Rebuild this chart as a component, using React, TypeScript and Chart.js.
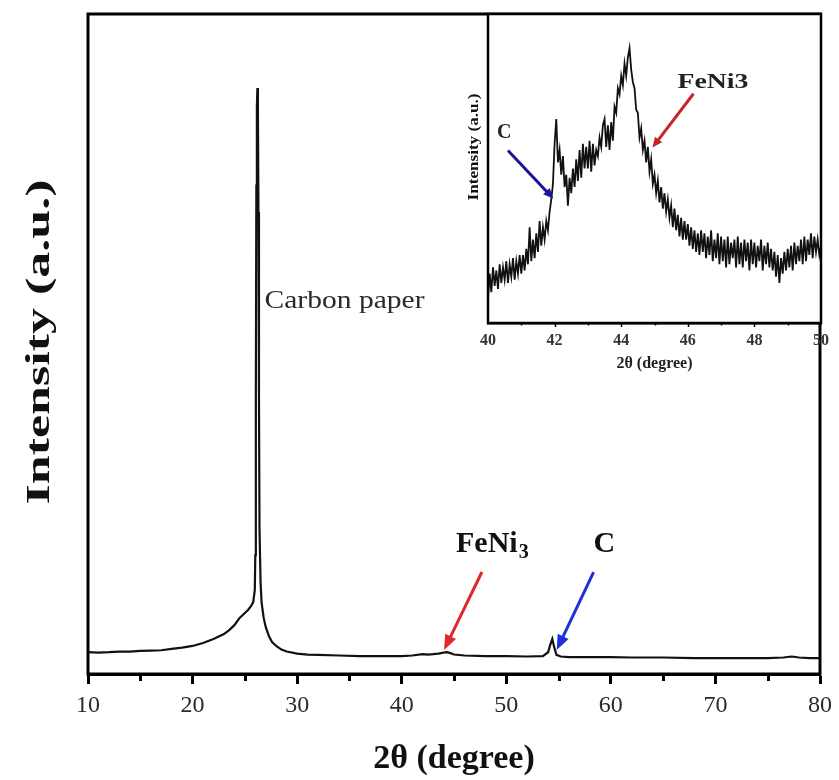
import React, { useEffect, useRef } from "react";
import { Chart, registerables } from "chart.js";

Chart.register(...registerables);

// ---------- DATA ----------
// Main XRD pattern (2θ in degrees, intensity in arbitrary units 0–100)
const mainTwoTheta = [
  10, 11, 12, 13, 14, 15, 16, 17, 18, 19, 20, 21, 22, 23, 23.5, 24, 24.5, 25, 25.3, 25.6,
  25.8, 25.95, 26.0, 26.05, 26.1, 26.15, 26.2, 26.25, 26.3, 26.35, 26.4, 26.5, 26.6, 26.8, 27.0,
  27.3, 27.6, 28, 28.5, 29, 30, 31, 32, 34, 36, 38, 40, 41, 42, 42.5, 43, 43.5, 44, 44.3,
  44.6, 45, 46, 48, 50, 52, 53.5, 54, 54.2, 54.4, 54.6, 54.8, 55.2, 56, 58, 60, 62, 65, 68,
  70, 72, 75, 76.5, 77.3, 78, 79, 80,
];
const mainIntensity = [
  3.3, 3.25, 3.3, 3.4, 3.4, 3.5, 3.55, 3.6, 3.8, 4.0, 4.25, 4.7, 5.3, 6.05, 6.65, 7.4, 8.5,
  9.25, 9.7, 10.3, 10.9, 12.7, 18, 42, 74, 86, 88.8, 85, 70, 42, 22, 14, 10.8, 8.5, 7.1,
  5.75, 4.85, 4.25, 3.7, 3.4, 3.1, 2.95, 2.9, 2.8, 2.7, 2.7, 2.7, 2.8, 3.0, 2.95, 3.0, 3.1, 3.25,
  3.3, 3.2, 2.95, 2.8, 2.7, 2.7, 2.65, 2.7, 3.3, 4.4, 5.3, 3.95, 2.9, 2.65, 2.55, 2.55, 2.55,
  2.5, 2.5, 2.4, 2.4, 2.4, 2.4, 2.5, 2.65, 2.5, 2.4, 2.4,
];
const mainTickLabels = [10, 20, 30, 40, 50, 60, 70, 80];
const mainMinorTicks = [15, 25, 35, 45, 55, 65, 75];

// Inset (zoom 40–50°), sampled every 0.05°
const insetStart = 40;
const insetStep = 0.05;
const insetIntensity = [
  8, 16, 10, 18, 12, 17, 11, 19, 13, 18,
  14, 20, 13, 19, 15, 21, 14, 20, 16, 22,
  16, 22, 17, 24, 19, 31, 20, 27, 21, 29,
  23, 33, 25, 31, 27, 33, 30, 36, 40, 45,
  58, 66, 52, 56, 48, 54, 44, 48, 38, 47,
  42, 50, 44, 53, 46, 56, 47, 58, 50, 57,
  50, 59, 49, 58, 51, 56, 54, 60, 57, 64,
  66, 57, 64, 56, 65, 59, 70, 68, 76, 74,
  80, 77, 84, 80, 86, 89, 82, 78, 76, 69,
  68, 60, 63, 56, 59, 52, 57, 49, 53, 45,
  48, 42, 46, 39, 44, 37, 42, 36, 40, 34,
  38, 31, 37, 30, 35, 28, 34, 27, 33, 27,
  32, 25, 31, 24, 30, 23, 29, 22, 30, 23,
  29, 21, 28, 22, 30, 20, 27, 21, 29, 19,
  28, 20, 27, 18, 28, 19, 26, 21, 27, 18,
  28, 19, 26, 18, 27, 20, 26, 17, 27, 19,
  26, 18, 25, 20, 27, 17, 25, 19, 26, 18,
  24, 17, 23, 15, 22, 13, 21, 16, 23, 17,
  24, 18, 25, 17, 26, 19, 25, 20, 27, 19,
  28, 20, 27, 22, 29, 21, 28, 23, 27, 22,
  25,
];
const insetTickLabels = [40, 42, 44, 46, 48, 50];
const insetAllTicks = [41, 42, 43, 44, 45, 46, 47, 48, 49];

// ---------- STYLE / ANNOTATION SETTINGS ----------
const SERIF = '"Liberation Serif", "Times New Roman", serif';
const W = 839;
const H = 780;

const mainAnno = {
  carbon: { x: 26.88, y: 55.45, text: "Carbon paper" },
  feni: { x: 45.19, y: 18.48 },
  c: { x: 58.35, y: 18.48 },
  redArrow: { x1: 47.67, y1: 15.45, x2: 44.05, y2: 3.64 },
  blueArrow: { x1: 58.35, y1: 15.45, x2: 54.82, y2: 3.64 },
};
const insetAnno = {
  c: { x: 40.27, y: 60.0 },
  feni: { x: 45.69, y: 76.1 },
  blueArrow: { x1: 40.6, y1: 55.8, x2: 41.96, y2: 40.3 },
  redArrow: { x1: 46.17, y1: 74.2, x2: 44.94, y2: 56.8 },
};

function drawText(
  ctx: CanvasRenderingContext2D,
  text: string,
  x: number,
  y: number,
  font: string,
  color: string,
  opts: { targetW?: number; align?: "left" | "center"; baseline?: CanvasTextBaseline; rot?: number } = {}
) {
  ctx.save();
  ctx.font = font;
  ctx.fillStyle = color;
  ctx.textBaseline = opts.baseline || "alphabetic";
  ctx.textAlign = "left";
  const w = ctx.measureText(text).width;
  const sx = opts.targetW ? opts.targetW / w : 1;
  ctx.translate(x, y);
  if (opts.rot) ctx.rotate(opts.rot);
  ctx.scale(sx, 1);
  const ox = opts.align === "center" ? -w / 2 : 0;
  ctx.fillText(text, ox, 0);
  ctx.restore();
  return w * sx;
}

function drawArrow(
  ctx: CanvasRenderingContext2D,
  x1: number,
  y1: number,
  x2: number,
  y2: number,
  color: string,
  lw: number,
  hl: number,
  hw: number
) {
  const a = Math.atan2(y2 - y1, x2 - x1);
  const c = Math.cos(a);
  const s = Math.sin(a);
  const bx = x2 - hl * c;
  const by = y2 - hl * s;
  ctx.save();
  ctx.strokeStyle = color;
  ctx.fillStyle = color;
  ctx.lineWidth = lw;
  ctx.lineCap = "butt";
  ctx.beginPath();
  ctx.moveTo(x1, y1);
  ctx.lineTo(bx + c, by + s);
  ctx.stroke();
  ctx.beginPath();
  ctx.moveTo(x2, y2);
  ctx.lineTo(bx + (hw / 2) * s, by - (hw / 2) * c);
  ctx.lineTo(bx - (hw / 2) * s, by + (hw / 2) * c);
  ctx.closePath();
  ctx.fill();
  ctx.restore();
}

const mainPlugin = {
  id: "mainDecor",
  afterDraw(chart: any) {
    const { ctx, chartArea, scales } = chart;
    const xs = scales.x;
    const ys = scales.y;
    const px = (v: number) => xs.getPixelForValue(v);
    const py = (v: number) => ys.getPixelForValue(v);
    ctx.save();
    ctx.strokeStyle = "#000";
    ctx.lineWidth = 3;
    ctx.strokeRect(chartArea.left, chartArea.top, chartArea.right - chartArea.left, chartArea.bottom - chartArea.top);
    for (const t of mainMinorTicks) {
      const x = Math.round(px(t)) + 0.5;
      ctx.beginPath();
      ctx.moveTo(x, chartArea.bottom);
      ctx.lineTo(x, chartArea.bottom + 7);
      ctx.stroke();
    }
    ctx.restore();
    drawText(ctx, "Intensity (a.u.)", 40, (chartArea.top + chartArea.bottom) / 2 - 2, `bold 34px ${SERIF}`, "#111", {
      targetW: 325,
      align: "center",
      baseline: "middle",
      rot: -Math.PI / 2,
    });
    drawText(ctx, mainAnno.carbon.text, px(mainAnno.carbon.x), py(mainAnno.carbon.y), `25px ${SERIF}`, "#2a2a2a", {
      targetW: 160,
    });
    const fx = px(mainAnno.feni.x);
    const fy = py(mainAnno.feni.y);
    const fw = drawText(ctx, "FeNi", fx, fy, `bold 30px ${SERIF}`, "#111");
    drawText(ctx, "3", fx + fw + 1, fy + 6, `bold 20px ${SERIF}`, "#111");
    drawText(ctx, "C", px(mainAnno.c.x), py(mainAnno.c.y), `bold 30px ${SERIF}`, "#111");
    const r = mainAnno.redArrow;
    drawArrow(ctx, px(r.x1), py(r.y1), px(r.x2), py(r.y2), "#e0282a", 3, 15, 12);
    const b = mainAnno.blueArrow;
    drawArrow(ctx, px(b.x1), py(b.y1), px(b.x2), py(b.y2), "#1f2fd8", 3, 15, 12);
  },
};

const insetPlugin = {
  id: "insetDecor",
  beforeDraw(chart: any) {
    const { ctx, chartArea } = chart;
    ctx.save();
    ctx.fillStyle = "#fff";
    ctx.fillRect(chartArea.left, chartArea.top, chartArea.right - chartArea.left, chartArea.bottom - chartArea.top);
    ctx.restore();
  },
  afterDraw(chart: any) {
    const { ctx, chartArea, scales } = chart;
    const xs = scales.x;
    const ys = scales.y;
    const px = (v: number) => xs.getPixelForValue(v);
    const py = (v: number) => ys.getPixelForValue(v);
    ctx.save();
    ctx.strokeStyle = "#000";
    ctx.lineWidth = 2.5;
    ctx.strokeRect(chartArea.left, chartArea.top, chartArea.right - chartArea.left, chartArea.bottom - chartArea.top);
    ctx.lineWidth = 1.5;
    for (const t of insetAllTicks) {
      const x = Math.round(px(t)) + 0.5;
      const len = t % 2 === 0 ? 4 : 2.5;
      ctx.beginPath();
      ctx.moveTo(x, chartArea.bottom);
      ctx.lineTo(x, chartArea.bottom + len);
      ctx.stroke();
    }
    ctx.restore();
    drawText(ctx, "Intensity (a.u.)", 34, 147, `bold 14px ${SERIF}`, "#111", {
      targetW: 107,
      align: "center",
      baseline: "middle",
      rot: -Math.PI / 2,
    });
    drawText(ctx, "C", px(insetAnno.c.x), py(insetAnno.c.y), `bold 20px ${SERIF}`, "#222");
    drawText(ctx, "FeNi3", px(insetAnno.feni.x), py(insetAnno.feni.y), `bold 20px ${SERIF}`, "#222", { targetW: 71 });
    const b = insetAnno.blueArrow;
    drawArrow(ctx, px(b.x1), py(b.y1), px(b.x2), py(b.y2), "#16169a", 3, 10, 9);
    const r = insetAnno.redArrow;
    drawArrow(ctx, px(r.x1), py(r.y1), px(r.x2), py(r.y2), "#c8242a", 3, 10, 9);
  },
};

export default function App() {
  const mainRef = useRef<HTMLCanvasElement | null>(null);
  const insetRef = useRef<HTMLCanvasElement | null>(null);

  useEffect(() => {
    document.body.style.margin = "0";
    const mainData = mainTwoTheta.map((x, i) => ({ x, y: mainIntensity[i] }));
    const insetData = insetIntensity.map((y, i) => ({ x: insetStart + i * insetStep, y }));

    const main = new Chart(mainRef.current as HTMLCanvasElement, {
      type: "line",
      data: {
        datasets: [
          {
            data: mainData,
            borderColor: "#111",
            borderWidth: 2.2,
            pointRadius: 0,
            tension: 0,
            fill: false,
          },
        ],
      },
      options: {
        animation: false,
        responsive: false,
        devicePixelRatio: 1,
        layout: { padding: { left: 88, top: 14, right: 18, bottom: 0 } },
        plugins: { legend: { display: false }, tooltip: { enabled: false } },
        scales: {
          x: {
            type: "linear",
            min: 10,
            max: 80,
            afterBuildTicks: (s: any) => {
              s.ticks = mainTickLabels.map((v) => ({ value: v }));
            },
            afterFit: (s: any) => {
              s.height = 106;
            },
            ticks: {
              font: { family: SERIF, size: 24 },
              color: "#2a2a2a",
              padding: 7,
              maxRotation: 0,
              autoSkip: false,
            },
            grid: {
              drawOnChartArea: false,
              drawTicks: true,
              tickLength: 10,
              tickWidth: 3,
              tickColor: "#000",
            },
            border: { display: true, width: 3, color: "#000" },
            title: {
              display: true,
              text: "2θ (degree)",
              font: { family: SERIF, size: 34, weight: "bold" },
              color: "#111",
              padding: { top: 0, bottom: 0 },
            },
          },
          y: { display: false, min: 0, max: 100 },
        },
      },
      plugins: [mainPlugin],
    } as any);

    const inset = new Chart(insetRef.current as HTMLCanvasElement, {
      type: "line",
      data: {
        datasets: [
          {
            data: insetData,
            borderColor: "#111",
            borderWidth: 1.8,
            pointRadius: 0,
            tension: 0,
            fill: false,
          },
        ],
      },
      options: {
        animation: false,
        responsive: false,
        devicePixelRatio: 1,
        layout: { padding: { left: 48, top: 14, right: 18, bottom: 0 } },
        plugins: { legend: { display: false }, tooltip: { enabled: false } },
        scales: {
          x: {
            type: "linear",
            min: 40,
            max: 50,
            afterBuildTicks: (s: any) => {
              s.ticks = insetTickLabels.map((v) => ({ value: v }));
            },
            afterFit: (s: any) => {
              s.height = 67;
            },
            ticks: {
              font: { family: SERIF, size: 16, weight: "bold" },
              color: "#333",
              padding: 8,
              maxRotation: 0,
              autoSkip: false,
            },
            grid: { drawOnChartArea: false, drawTicks: false },
            border: { display: true, width: 2.5, color: "#000" },
            title: {
              display: true,
              text: "2θ (degree)",
              font: { family: SERIF, size: 16, weight: "bold" },
              color: "#222",
              padding: { top: 0, bottom: 17 },
            },
          },
          y: { display: false, min: 0, max: 100 },
        },
      },
      plugins: [insetPlugin],
    } as any);

    return () => {
      main.destroy();
      inset.destroy();
    };
  }, []);

  return (
    <div style={{ position: "relative", width: W, height: H, background: "#fff" }}>
      <canvas ref={mainRef} width={W} height={H} style={{ position: "absolute", left: 0, top: 0, width: W, height: H }} />
      <canvas
        ref={insetRef}
        width={399}
        height={390}
        style={{ position: "absolute", left: 440, top: 0, width: 399, height: 390 }}
      />
    </div>
  );
}
